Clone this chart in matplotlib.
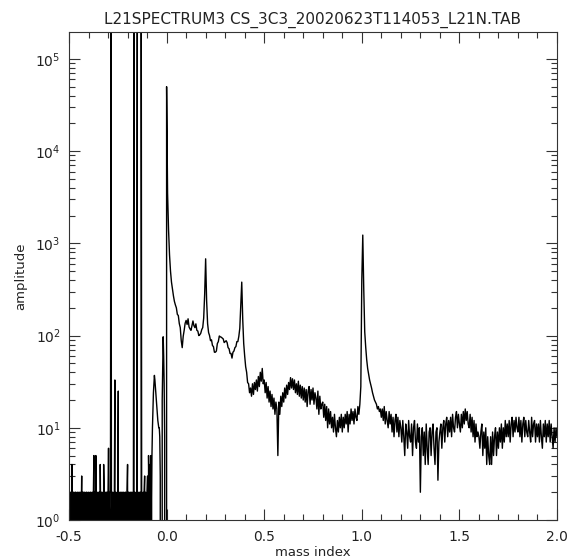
import numpy as np
import matplotlib

matplotlib.use("Agg")
import matplotlib.pyplot as plt
from matplotlib.ticker import LogLocator, MultipleLocator, FormatStrFormatter

TITLE = "L21SPECTRUM3 CS_3C3_20020623T114053_L21N.TAB"
LEFT_STEP = 0.0025
MAIN_STEP = 0.005

# counts below the main peak, mass index -0.5000 .. -0.0025
left_counts = [
    2, 0, 2, 1, 2, 0, 4, 1, 2, 0,
    2, 1, 0, 2, 2, 0, 1, 2, 0, 2,
    1, 0, 2, 2, 0, 1, 3, 0, 2, 1,
    2, 0, 2, 1, 0, 2, 2, 0, 1, 2,
    0, 2, 1, 0, 2, 2, 0, 1, 2, 0,
    2, 5, 0, 2, 1, 5, 2, 0, 2, 1,
    0, 2, 2, 0, 4, 1, 2, 0, 2, 1,
    0, 4, 2, 0, 1, 2, 0, 2, 2, 0,
    2, 6, 1, 0, 2, 2, 1e6, 1, 2, 0,
    2, 0, 1, 2, 33, 0, 2, 1, 0, 2,
    2, 25, 0, 2, 1, 0, 2, 2, 0, 1,
    2, 0, 2, 1, 0, 2, 2, 0, 1, 2,
    4, 0, 2, 2, 0, 1, 2, 0, 2, 1,
    0, 2, 2, 1e6, 0, 2, 1, 0, 2, 2,
    1e6, 0, 2, 1, 0, 2, 2, 0, 1e6, 2,
    0, 1, 2, 0, 2, 3, 0, 2, 1, 0,
    2, 3, 0, 5, 2, 0, 4, 2, 5, 1,
    5, 10, 15, 24, 30, 37, 33, 28, 24, 20,
    17, 14, 12, 11, 10, 10, 8, 3, 0, 0,
    0, 20, 45, 97, 60, 30, 8, 0, 0, 0,
]

# spectrum, mass index 0.000 .. 2.000
main_amp = [
    50000, 3500, 1400, 750, 500, 380, 320, 270, 235, 215,
    200, 170, 165, 135, 122, 88, 74, 98, 114, 136,
    146, 132, 152, 124, 118, 114, 128, 144, 128, 122,
    134, 114, 112, 100, 102, 106, 116, 122, 155, 280,
    680, 240, 135, 108, 100, 88, 90, 78, 76, 66,
    66, 68, 82, 86, 99, 97, 96, 94, 92, 84,
    86, 88, 84, 74, 72, 64, 64, 57, 66, 68,
    74, 76, 86, 86, 98, 120, 220, 380, 150, 82,
    60, 46, 40, 31, 30, 24, 27, 22, 30, 23,
    31, 26, 33, 25, 36, 28, 40, 32, 44, 30,
    33, 24, 31, 21, 28, 19, 25, 17, 23, 16,
    21, 14, 19, 16, 5, 19, 14, 22, 17, 24,
    19, 27, 21, 29, 23, 31, 26, 35, 27, 34,
    26, 33, 24, 30, 23, 32, 22, 29, 21, 28,
    20, 27, 19, 26, 17, 25, 28, 18, 26, 20,
    27, 18, 24, 21, 16, 25, 14, 22, 16, 18,
    19, 13, 18, 12, 17, 10, 16, 11, 15, 10,
    13, 9, 14, 10, 8, 12, 9, 13, 10, 14,
    9, 13, 10, 14, 11, 15, 9, 14, 11, 16,
    12, 15, 11, 16, 13, 12, 17, 14, 18, 28,
    400, 1230, 320, 110, 75, 55, 44, 38, 33, 30,
    27, 24, 22, 20, 19, 18, 16, 17, 15, 16,
    13, 16, 12, 17, 11, 15, 12, 10, 15, 11,
    14, 9, 13, 8, 12, 14, 9, 13, 8, 12,
    10, 7, 12, 8, 5, 11, 9, 6, 12, 8,
    7, 11, 5, 10, 12, 7, 6, 11, 7, 10,
    2, 8, 10, 5, 9, 4, 11, 6, 4, 9,
    10, 5, 9, 11, 6, 4, 9, 10, 2.7, 7,
    9, 11, 6, 10, 12, 7, 11, 13, 8, 12,
    9, 13, 8, 14, 10, 9, 13, 15, 10, 14,
    11, 9, 14, 10, 15, 11, 16, 12, 15, 11,
    10, 14, 9, 13, 8, 12, 7, 11, 8, 9,
    8, 6, 9, 11, 5, 9, 6, 10, 4, 8,
    5, 4, 8, 4, 9, 5, 8, 10, 5, 9,
    6, 10, 7, 11, 6, 10, 7, 12, 8, 11,
    8, 12, 7, 11, 13, 8, 12, 9, 13, 10,
    9, 13, 8, 12, 7, 11, 13, 8, 12, 9,
    8, 12, 9, 7, 13, 8, 11, 12, 7, 11,
    8, 11, 7, 12, 8, 6, 11, 8, 12, 7,
    11, 8, 12, 7, 11, 8, 6, 10, 7, 10,
    8,
]

left_mass = -0.5 + LEFT_STEP * np.arange(len(left_counts))
main_mass = MAIN_STEP * np.arange(len(main_amp))
mass = np.concatenate([left_mass, main_mass])
amp = np.array(left_counts + main_amp, dtype=float)

plt.rcParams["font.family"] = ["DejaVu Sans"]
plt.rcParams["mathtext.fontset"] = "dejavusans"

fig = plt.figure(figsize=(5.67, 5.59), dpi=100)
ax = fig.add_axes([69 / 567, 39 / 559, 488 / 567, 488 / 559])

ax.plot(mass, amp, color="black", linewidth=1.0)
ax.set_yscale("log", nonpositive="clip")
ax.set_xlim(-0.5, 2.0)
ax.set_ylim(1, 1.96e5)

ax.xaxis.set_major_locator(MultipleLocator(0.5))
ax.xaxis.set_minor_locator(MultipleLocator(0.1))
ax.xaxis.set_major_formatter(FormatStrFormatter("%.1f"))
ax.yaxis.set_major_locator(LogLocator(base=10, numticks=10))
ax.yaxis.set_minor_locator(LogLocator(base=10, subs=np.arange(2, 10), numticks=10))

ax.tick_params(which="both", direction="in", top=True, right=True,
               width=0.8, labelsize=10, color="#333333", labelcolor="#222222")
ax.tick_params(which="major", length=8)
ax.tick_params(which="minor", length=4)
ax.tick_params(axis="x", which="major", pad=7)
ax.tick_params(axis="y", which="major", pad=6)
for sp in ax.spines.values():
    sp.set_linewidth(0.8)
    sp.set_color("#333333")

ax.set_xlabel("mass index", fontsize=9.5, labelpad=2, color="#222222")
ax.set_ylabel("amplitude", fontsize=9.5, labelpad=6, color="#222222")
ax.set_title(TITLE, fontsize=11, pad=6, color="#222222")

fig.savefig("out.png", dpi=100)
